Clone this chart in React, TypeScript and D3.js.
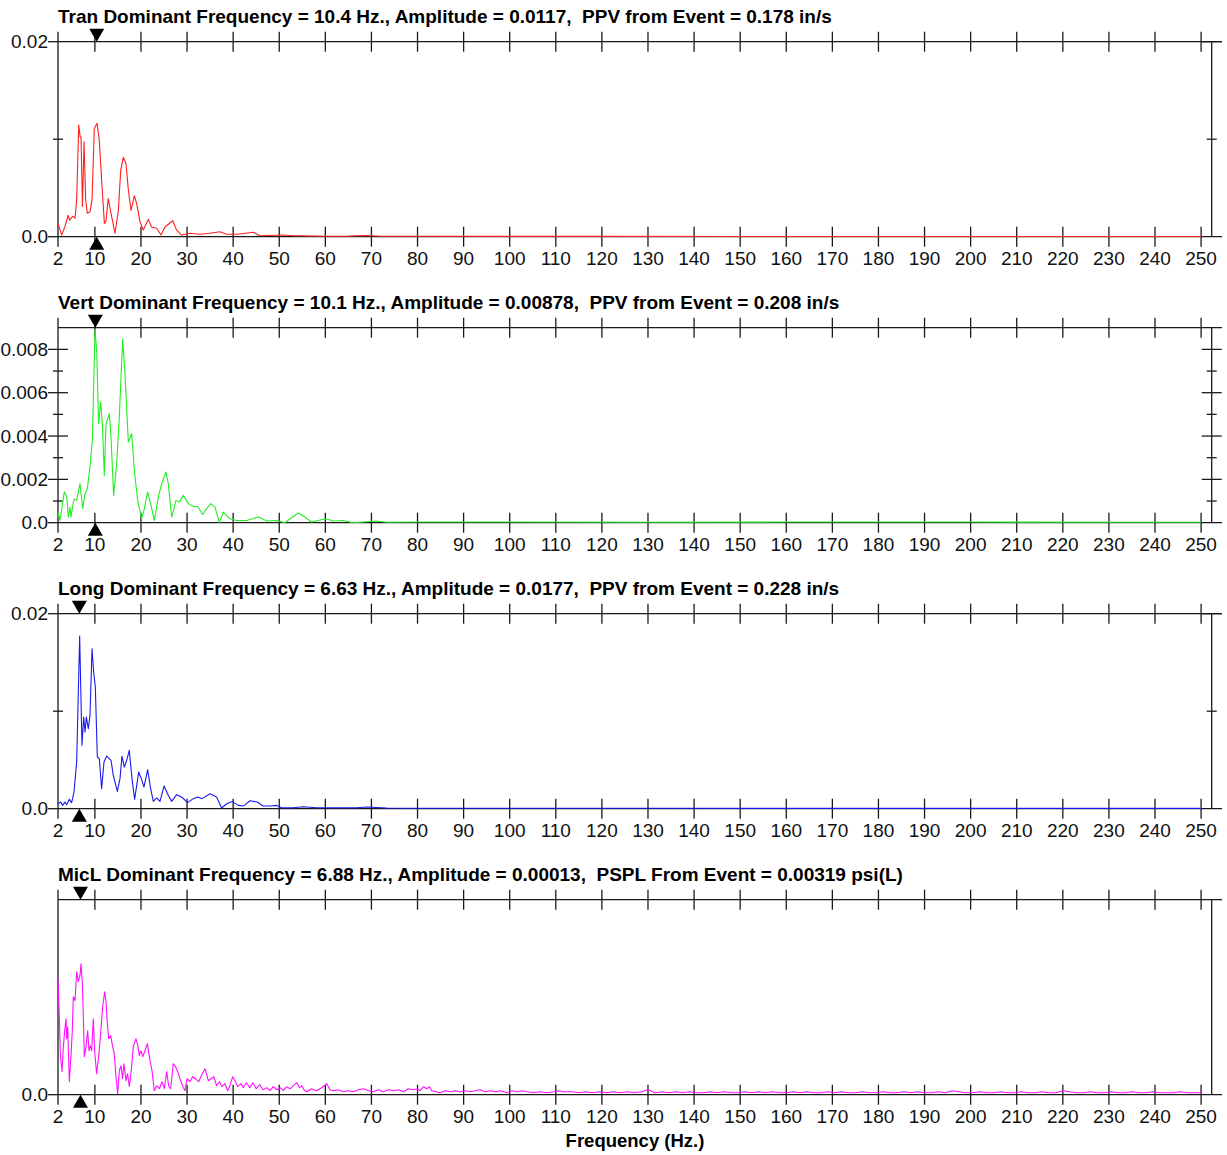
import React from "react";
import * as d3 from "d3";

// ---------- data ----------
const titles = [
  "Tran Dominant Frequency = 10.4 Hz., Amplitude = 0.0117,  PPV from Event = 0.178 in/s",
  "Vert Dominant Frequency = 10.1 Hz., Amplitude = 0.00878,  PPV from Event = 0.208 in/s",
  "Long Dominant Frequency = 6.63 Hz., Amplitude = 0.0177,  PPV from Event = 0.228 in/s",
  "MicL Dominant Frequency = 6.88 Hz., Amplitude = 0.00013,  PSPL From Event = 0.00319 psi(L)",
];
const dominantFreq = [10.4, 10.1, 6.63, 6.88];
const yMax = [0.02, 0.009, 0.02, 0.000195];
const yMajorTicks = [[0, 0.02], [0, 0.002, 0.004, 0.006, 0.008], [0, 0.02], [0]];
const yMajorLabels = [["0.0", "0.02"], ["0.0", "0.002", "0.004", "0.006", "0.008"], ["0.0", "0.02"], ["0.0"]];
const yMinorTicks = [[0.01], [0.001, 0.003, 0.005, 0.007], [0.01], []];
const freqTicks = [10, 20, 30, 40, 50, 60, 70, 80, 90, 100, 110, 120, 130, 140, 150, 160, 170, 180, 190, 200, 210, 220, 230, 240, 250];
const freqLabels = [2, ...freqTicks];
const xLabel = "Frequency (Hz.)";

const tranFreq = [2, 2.8, 3.5, 4.2, 4.5, 5.2, 5.7, 6.05, 6.5, 6.8, 7.0, 7.3, 7.65, 8.0, 8.36, 8.94, 9.38, 9.88, 10.46, 10.96, 11.5, 12.06, 12.4, 12.9, 13.5, 14.37, 15.1, 15.6, 16.17, 16.75, 17.26, 17.84, 18.56, 19.07, 19.8, 20.5, 21.6, 22.3, 23.4, 24.35, 25.2, 26.9, 27.7, 28.8, 30.6, 32.7, 34.9, 37.1, 38.6, 40.8, 44.4, 45.8, 50.9, 53, 55, 60, 65, 69, 72, 80, 100, 120, 150, 200, 250];
const tranAmp = [0.00137, 0.00017, 0.00103, 0.0022, 0.0017, 0.0021, 0.0019, 0.0038, 0.01146, 0.01026, 0.0102, 0.0031, 0.00974, 0.0038, 0.0024, 0.00256, 0.0038, 0.0111, 0.01163, 0.0099, 0.0055, 0.00137, 0.0016, 0.0039, 0.0024, 0.00035, 0.0027, 0.0068, 0.00814, 0.0075, 0.0048, 0.0027, 0.0042, 0.0034, 0.0015, 0.00069, 0.0018, 0.001, 0.00086, 0.00017, 0.001, 0.00164, 0.0007, 0.00017, 0.00035, 0.00025, 0.00035, 0.0005, 0.00025, 0.00025, 0.00045, 0.0001, 0.00017, 0.0001, 0.00008, 0.00005, 0.00006, 0.00012, 0.00005, 0.00004, 0.00003, 0.00003, 0.00002, 0.00002, 0.00002];

const vertFreq = [2, 2.43, 3.37, 3.88, 4.24, 4.6, 4.8, 5.47, 6.05, 6.77, 7.35, 7.86, 8.36, 8.94, 9.45, 10.03, 10.39, 10.82, 11.26, 11.62, 12.05, 12.41, 13.14, 13.5, 14.07, 14.73, 15.3, 16.03, 16.53, 17.26, 17.98, 18.56, 19.28, 20.15, 20.65, 21.45, 22.1, 22.9, 23.76, 24.49, 25.43, 25.93, 26.66, 27.6, 28.32, 29.19, 30.27, 31.36, 32.3, 33.38, 34.25, 35.12, 36.06, 37, 37.86, 39.3, 40.75, 42.9, 45.45, 47.3, 49.4, 51.2, 54.1, 55.6, 57, 60.1, 61.7, 63.9, 66, 71.1, 73.3, 80, 100, 130, 160, 200, 230, 250];
const vertAmp = [0.00049, 0.0001, 0.00142, 0.00122, 0.00026, 0.00072, 0.00026, 0.0011, 0.00103, 0.0018, 0.00065, 0.00134, 0.00157, 0.00257, 0.0038, 0.0089, 0.00795, 0.00457, 0.00557, 0.00457, 0.00218, 0.00457, 0.00503, 0.00395, 0.00126, 0.00272, 0.00488, 0.00849, 0.00688, 0.00372, 0.00411, 0.00242, 0.00103, 0.00018, 0.00057, 0.00142, 0.00088, 0.0001, 0.00118, 0.0018, 0.00234, 0.0018, 0.00026, 0.00103, 0.00095, 0.00126, 0.00088, 0.00075, 0.00075, 0.00038, 0.00065, 0.00088, 0.00072, 0.0, 0.00049, 0.00018, 0.0001, 0.0001, 0.00026, 0.00008, 0.0001, 0.0, 0.00045, 0.00026, 0.00003, 0.00018, 0.00008, 0.0001, 0.0, 0.00008, 0.00002, 0.00003, 0.00003, 0.00002, 0.00003, 0.00003, 0.00002, 0.00002];

const longFreq = [2, 2.58, 3.0, 3.5, 3.88, 4.46, 4.96, 5.47, 6.05, 6.7, 7.2, 7.57, 7.86, 8.15, 8.58, 8.94, 9.38, 9.74, 10.1, 10.53, 10.97, 11.47, 11.98, 12.56, 13.5, 14.0, 14.87, 15.45, 15.88, 16.39, 16.9, 17.47, 18.05, 18.63, 19.5, 20.08, 20.65, 21.45, 22.1, 22.68, 23.4, 24.13, 25.0, 25.93, 26.66, 27.74, 28.83, 30.13, 31.36, 32.3, 33.24, 34.97, 36.4, 37.5, 38.6, 39.8, 41.1, 42.2, 43.65, 45.24, 46.5, 48, 49.4, 50.5, 53, 55.2, 58.1, 61.7, 66.8, 69, 73.3, 80, 100, 130, 160, 200, 250];
const longAmp = [0.00051, 0.00068, 0.00034, 0.00068, 0.00041, 0.00096, 0.00062, 0.00171, 0.0048, 0.01771, 0.0065, 0.0094, 0.00786, 0.0094, 0.0082, 0.00957, 0.01641, 0.01402, 0.01248, 0.0053, 0.00513, 0.00205, 0.00479, 0.0054, 0.00496, 0.00342, 0.00178, 0.00308, 0.0054, 0.00427, 0.00496, 0.00598, 0.00308, 0.00096, 0.00376, 0.00308, 0.00222, 0.004, 0.00205, 0.00075, 0.0011, 0.00075, 0.00232, 0.00137, 0.00075, 0.00144, 0.0012, 0.00062, 0.00103, 0.0012, 0.00103, 0.00154, 0.0012, 0.00007, 0.00051, 0.00075, 0.00034, 0.00027, 0.00082, 0.00068, 0.00027, 0.00027, 0.00034, 0.0001, 0.0001, 0.0002, 0.0001, 0.0001, 0.0001, 0.00017, 0.00007, 0.00005, 0.00004, 0.00004, 0.00003, 0.00003, 0.00003];

// MicL: low-frequency part (2 - 42.9 Hz)
const micLowFreq = [2, 2.29, 2.5, 2.87, 3.16, 3.45, 3.74, 3.88, 4.1, 4.46, 4.82, 5.1, 5.33, 5.69, 6.05, 6.4, 6.77, 6.99, 7.28, 7.5, 7.72, 8.08, 8.44, 8.73, 9.0, 9.3, 9.66, 9.95, 10.38, 10.82, 11.25, 11.69, 12.13, 12.4, 12.7, 13.0, 13.43, 13.86, 14.2, 14.58, 14.95, 15.3, 15.67, 16.0, 16.3, 16.75, 17.1, 17.47, 17.98, 18.34, 18.92, 19.35, 19.64, 20.0, 20.37, 20.87, 21.38, 21.96, 22.4, 22.9, 23.4, 24.0, 24.57, 25.07, 25.58, 26.0, 26.45, 27.0, 27.5, 27.96, 28.46, 29.0, 29.55, 30.0, 30.6, 31.2, 31.8, 32.5, 33.1, 33.9, 34.6, 35.2, 35.8, 36.4, 37.0, 37.6, 38.2, 38.8, 39.3, 39.9, 40.5, 41.0, 41.7, 42.2, 42.9];
const micLowAmp = [0.000116, 0.000078, 0.000041, 0.000023, 0.000048, 0.000064, 0.000076, 0.000056, 0.000068, 0.000013, 0.000039, 0.000064, 0.000098, 0.000094, 0.000123, 0.000113, 0.000119, 0.000131, 0.000111, 0.000078, 0.000038, 0.000048, 0.000064, 0.000044, 0.000049, 0.000044, 0.000076, 0.000044, 0.000021, 0.000038, 0.000061, 0.000088, 0.000103, 0.000094, 0.000071, 0.000056, 0.000059, 0.000048, 0.000041, 0.000018, 0.000001, 0.000024, 0.000029, 0.000016, 0.000031, 0.000014, 0.000021, 0.000008, 0.000028, 0.000048, 0.000056, 0.000048, 0.000039, 0.000044, 0.000038, 0.000044, 0.000051, 0.000034, 0.000024, 0.000004, 0.000009, 0.000006, 0.000013, 0.000006, 0.000023, 0.000009, 0.000006, 0.000031, 0.000028, 0.000023, 0.000016, 0.000009, 0.000004, 0.000016, 0.000013, 0.000018, 0.000016, 0.000013, 0.000019, 0.000026, 0.000014, 0.000016, 0.000018, 0.000009, 0.000013, 0.000008, 0.000011, 0.000004, 0.000009, 0.000018, 0.000013, 0.000008, 0.000011, 0.000007, 0.000012];

// MicL: middle part (43.6 - 111.8 Hz)
const micMidFreq = [
  43.6, 44.3, 45.0, 45.8, 46.5, 47.3, 48.0, 48.7, 49.5, 50.2,
  50.9, 51.6, 52.4, 53.1, 53.8, 54.4, 54.9, 55.5, 56.0, 57.0,
  58.1, 59.2, 60.3, 61.0, 61.7, 62.8, 63.9, 65.0, 66.1, 67.2,
  68.3, 69.4, 70.4, 71.5, 72.6, 73.7, 74.8, 75.9, 77.0, 78.0,
  79.1, 80.0, 80.6, 81.3, 82.0, 82.6, 83.1, 84.0, 84.9, 86.0,
  87.1, 88.2, 89.3, 90.4, 91.4, 92.5, 93.6, 94.7, 95.8, 96.9,
  98.0, 99.4, 100.5, 101.6, 102.7, 103.8, 105.2, 106.7, 108.1, 109.6,
  110.7, 111.8,
];
const micMidAmp = [
  7e-6, 12e-6, 6e-6, 10e-6, 5e-6, 7e-6, 4e-6, 8e-6, 5e-6, 7e-6,
  4e-6, 8e-6, 6e-6, 9e-6, 12e-6, 7e-6, 9e-6, 4e-6, 3e-6, 6e-6,
  4e-6, 7e-6, 11e-6, 5e-6, 4e-6, 5e-6, 3e-6, 4e-6, 3e-6, 5e-6,
  6e-6, 4e-6, 3e-6, 5e-6, 3e-6, 5e-6, 4e-6, 5e-6, 3e-6, 6e-6,
  5e-6, 6e-6, 4e-6, 8e-6, 6e-6, 8e-6, 4e-6, 3e-6, 2e-6, 4e-6,
  3e-6, 4e-6, 3e-6, 4e-6, 3e-6, 4e-6, 5e-6, 3e-6, 4e-6, 3e-6,
  4e-6, 2e-6, 4e-6, 3e-6, 4e-6, 3e-6, 2e-6, 3e-6, 2e-6, 3e-6,
  4e-6, 3e-6,
];

// MicL: high-frequency tail (113.5 - 250 Hz)
const micHighFreq = [
  113.5, 115, 116.5, 118, 119.5, 121, 122.5, 124, 125.5, 127,
  128.5, 130, 131.5, 133, 134.5, 136, 137.5, 139, 140.5, 142,
  143.5, 145, 146.5, 148, 149.5, 151, 152.5, 154, 155.5, 157,
  158.5, 160, 161.5, 163, 164.5, 166, 167.5, 169, 170.5, 172,
  173.5, 175, 176.5, 178, 179.5, 181, 182.5, 184, 185.5, 187,
  188.5, 190, 191.5, 193, 194.5, 196, 197.5, 199, 200.5, 202,
  203.5, 205, 206.5, 208, 209.5, 211, 212.5, 214, 215.5, 217,
  218.5, 220, 221.5, 223, 224.5, 226, 227.5, 229, 230.5, 232,
  233.5, 235, 236.5, 238, 239.5, 241, 242.5, 244, 245.5, 247,
  248.5, 250,
];
const micHighAmp = [
  3e-6, 2e-6, 3e-6, 2e-6, 3e-6, 2e-6, 3e-6, 2e-6, 3e-6, 2e-6,
  3e-6, 5e-6, 2e-6, 3e-6, 2e-6, 3e-6, 2e-6, 3e-6, 2e-6, 2e-6,
  3e-6, 2e-6, 3e-6, 2e-6, 2e-6, 3e-6, 2e-6, 3e-6, 2e-6, 3e-6,
  2e-6, 2e-6, 3e-6, 2e-6, 3e-6, 2e-6, 2e-6, 3e-6, 2e-6, 3e-6,
  2e-6, 2e-6, 3e-6, 2e-6, 2e-6, 3e-6, 2e-6, 2e-6, 3e-6, 2e-6,
  3e-6, 2e-6, 2e-6, 3e-6, 2e-6, 4e-6, 3e-6, 2e-6, 2e-6, 3e-6,
  2e-6, 2e-6, 3e-6, 2e-6, 2e-6, 3e-6, 2e-6, 2e-6, 3e-6, 2e-6,
  2e-6, 4e-6, 3e-6, 2e-6, 2e-6, 3e-6, 2e-6, 2e-6, 3e-6, 2e-6,
  2e-6, 3e-6, 2e-6, 2e-6, 3e-6, 2e-6, 2e-6, 2e-6, 3e-6, 2e-6,
  2e-6, 2e-6,
];

const micFreq = [...micLowFreq, ...micMidFreq, ...micHighFreq];
const micAmp = [...micLowAmp, ...micMidAmp, ...micHighAmp];

const seriesFreq = [tranFreq, vertFreq, longFreq, micFreq];
const seriesAmp = [tranAmp, vertAmp, longAmp, micAmp];
const seriesColor = ["#ff2020", "#22ee22", "#1a1aee", "#ff10ff"];

// ---------- layout ----------
const W = 1227;
const H = 1155;
const LEFT = 58;
const RIGHT = 1211.7;
const LINE_END = 1222;
const PANEL_TOP0 = 41.7;
const PANEL_STEP = 286;
const PANEL_H = 195;
const FONT = "'Liberation Sans', Arial, Helvetica, sans-serif";
const AX = "#1a1a1a";

const x = d3.scaleLinear().domain([2, 252.3]).range([LEFT, RIGHT]);

function Panel({ i }: { i: number }) {
  const top = PANEL_TOP0 + PANEL_STEP * i;
  const bottom = top + PANEL_H;
  const y = d3.scaleLinear().domain([0, yMax[i]]).range([bottom, top]);
  const n = Math.min(seriesFreq[i].length, seriesAmp[i].length);
  const pts = seriesFreq[i].slice(0, n).map((f, k) => [f, seriesAmp[i][k]] as [number, number]);
  const line = d3
    .line<[number, number]>()
    .x((d) => x(d[0]))
    .y((d) => y(d[1]));
  const df = x(dominantFreq[i]);
  return (
    <g>
      <text
        x={LEFT}
        y={top - 19}
        fontFamily={FONT}
        fontWeight="bold"
        fontSize={19}
        fill="#000"
        style={{ whiteSpace: "pre" }}
      >
        {titles[i]}
      </text>
      {/* frame */}
      <line x1={LEFT} x2={LINE_END} y1={top} y2={top} stroke={AX} strokeWidth={1.3} />
      <line x1={LEFT} x2={LINE_END} y1={bottom} y2={bottom} stroke={AX} strokeWidth={1.3} />
      <line x1={LEFT} x2={LEFT} y1={top - 10} y2={bottom + 10} stroke={AX} strokeWidth={1.3} />
      <line x1={RIGHT} x2={RIGHT} y1={top} y2={bottom} stroke={AX} strokeWidth={1.3} />
      {/* x ticks */}
      {freqTicks.map((t) => (
        <g key={t}>
          <line x1={x(t)} x2={x(t)} y1={top - 10} y2={top + 10} stroke={AX} strokeWidth={1.3} />
          <line x1={x(t)} x2={x(t)} y1={bottom - 10} y2={bottom + 10} stroke={AX} strokeWidth={1.3} />
        </g>
      ))}
      {freqLabels.map((t) => (
        <text key={"l" + t} x={x(t)} y={bottom + 28} textAnchor="middle" fontFamily={FONT} fontSize={19} fill="#111">
          {t}
        </text>
      ))}
      {/* y ticks */}
      {yMajorTicks[i].map((v, k) => (
        <g key={"ym" + k}>
          <line x1={LEFT - 10} x2={LEFT + (v === 0 || v === yMax[i] ? 0 : 10)} y1={y(v)} y2={y(v)} stroke={AX} strokeWidth={1.3} />
          {v !== 0 && <line x1={RIGHT - 10} x2={RIGHT + 10} y1={y(v)} y2={y(v)} stroke={AX} strokeWidth={1.3} />}
          <text x={LEFT - 10} y={y(v)} dy="0.35em" textAnchor="end" fontFamily={FONT} fontSize={19} fill="#111">
            {yMajorLabels[i][k]}
          </text>
        </g>
      ))}
      {yMinorTicks[i].map((v, k) => (
        <g key={"yn" + k}>
          <line x1={LEFT - 5} x2={LEFT + 5} y1={y(v)} y2={y(v)} stroke={AX} strokeWidth={1.3} />
          <line x1={RIGHT - 5} x2={RIGHT + 5} y1={y(v)} y2={y(v)} stroke={AX} strokeWidth={1.3} />
        </g>
      ))}
      {/* data line, drawn over the frame */}
      <path d={line(pts) || ""} fill="none" stroke={seriesColor[i]} strokeWidth={1.1} strokeLinejoin="round" />
      {/* dominant frequency markers */}
      <path d={`M${df - 7.5},${top - 13}L${df + 7.5},${top - 13}L${df},${top}Z`} fill="#000" />
      <path d={`M${df - 7.5},${bottom + 13}L${df + 7.5},${bottom + 13}L${df},${bottom}Z`} fill="#000" />
    </g>
  );
}

export default function App() {
  return (
    <svg
      width={W}
      height={H}
      viewBox={`0 0 ${W} ${H}`}
      style={{ position: "absolute", left: 0, top: 0, background: "#fff" }}
    >
      <rect width={W} height={H} fill="#fff" />
      {[0, 1, 2, 3].map((i) => (
        <Panel key={i} i={i} />
      ))}
      <text x={635} y={1147} textAnchor="middle" fontFamily={FONT} fontWeight="bold" fontSize={18.5} fill="#000">
        {xLabel}
      </text>
    </svg>
  );
}
